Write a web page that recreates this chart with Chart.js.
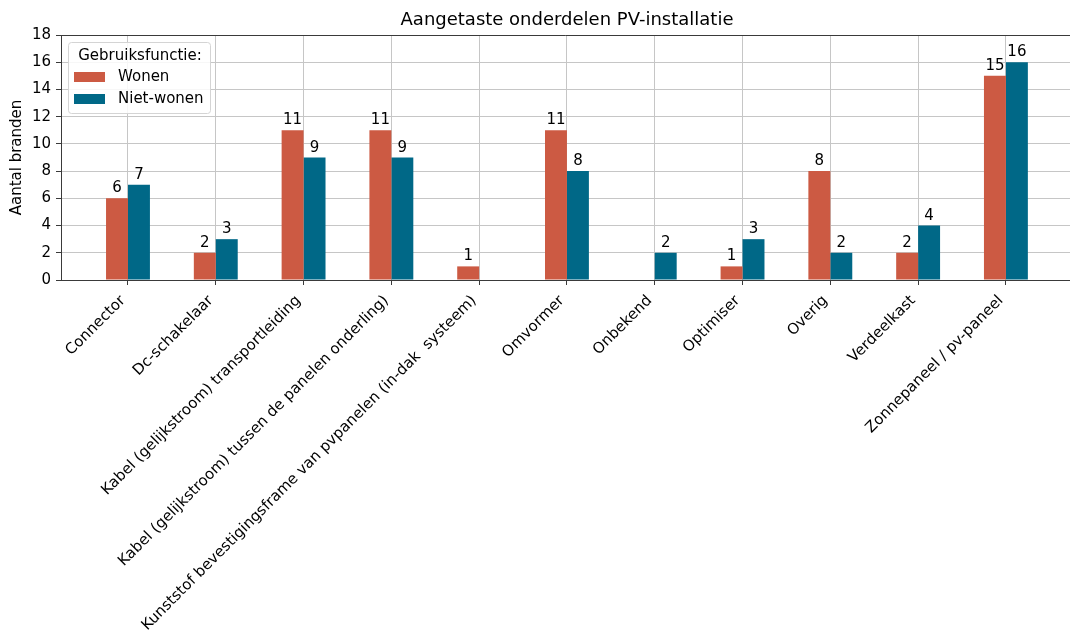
<!DOCTYPE html>
<html>
<head>
<meta charset="utf-8">
<script src="https://cdn.jsdelivr.net/npm/chart.js@4/dist/chart.umd.min.js"></script>
<style>
  html, body { margin: 0; padding: 0; background: #ffffff; }
  #wrap { width: 1070px; height: 632px; position: relative; }
</style>
</head>
<body>
<div id="wrap"><canvas id="c" width="1070" height="632"></canvas></div>
<script>
const chartTitle = "Aangetaste onderdelen PV-installatie";
const yAxisTitle = "Aantal branden";
const legendTitle = "Gebruiksfunctie:";
const categories = [
  "Connector",
  "Dc-schakelaar",
  "Kabel (gelijkstroom) transportleiding",
  "Kabel (gelijkstroom) tussen de panelen onderling)",
  "Kunststof bevestigingsframe van pvpanelen (in-dak  systeem)",
  "Omvormer",
  "Onbekend",
  "Optimiser",
  "Overig",
  "Verdeelkast",
  "Zonnepaneel / pv-paneel"
];
const seriesNames = ["Wonen", "Niet-wonen"];
const wonen =    [6, 2, 11, 11, 1, 11, 0, 1, 8, 2, 15];
const nietWonen = [7, 3, 9, 9, 0, 8, 2, 3, 2, 4, 16];
const yTicks = [0, 2, 4, 6, 8, 10, 12, 14, 16, 18];

const colors = ["#CC5A43", "#006887"];
const FONT = "'DejaVu Sans', 'Liberation Sans', sans-serif";

const toPoints = arr => arr.map((v, i) => ({ x: i, y: v }));

const valueLabels = {
  id: 'valueLabels',
  afterDatasetsDraw(chart) {
    const ctx = chart.ctx;
    ctx.save();
    ctx.font = "15px " + FONT;
    ctx.fillStyle = "#000";
    ctx.textAlign = "center";
    ctx.textBaseline = "alphabetic";
    chart.data.datasets.forEach((ds, di) => {
      const meta = chart.getDatasetMeta(di);
      meta.data.forEach((el, i) => {
        const v = ds.data[i].y;
        if (v > 0) ctx.fillText(String(v), el.x, el.y - 6);
      });
    });
    ctx.restore();
  }
};

const frame = {
  id: 'frame',
  afterDraw(chart) {
    const ctx = chart.ctx, a = chart.chartArea;
    ctx.save();
    // top spine
    ctx.strokeStyle = "#3a3a3a";
    ctx.lineWidth = 1;
    ctx.beginPath();
    ctx.moveTo(a.left, a.top + 0.5);
    ctx.lineTo(a.right, a.top + 0.5);
    ctx.stroke();
    // title
    ctx.font = "18px " + FONT;
    ctx.fillStyle = "#000";
    ctx.textAlign = "center";
    ctx.textBaseline = "alphabetic";
    ctx.fillText(chartTitle, 567, 25);
    // legend
    const lx = 68, ly = 42, lw = 142, lh = 71;
    ctx.fillStyle = "rgba(255,255,255,0.85)";
    ctx.strokeStyle = "#d4d4d4";
    ctx.lineWidth = 1;
    ctx.beginPath();
    ctx.roundRect(lx + 0.5, ly + 0.5, lw, lh, 3);
    ctx.fill();
    ctx.stroke();
    ctx.font = "15px " + FONT;
    ctx.fillStyle = "#000";
    ctx.textAlign = "center";
    ctx.textBaseline = "middle";
    ctx.fillText(legendTitle, lx + lw / 2 + 1, 56);
    const rows = [77, 99];
    chart.data.datasets.forEach((ds, di) => {
      ctx.fillStyle = ds.backgroundColor;
      ctx.fillRect(74, rows[di] - 5, 31, 10);
      ctx.fillStyle = "#000";
      ctx.textAlign = "left";
      ctx.fillText(ds.label, 118, rows[di]);
    });
    ctx.restore();
  }
};

new Chart(document.getElementById('c'), {
  type: 'bar',
  data: {
    datasets: [
      { label: seriesNames[0], data: toPoints(wonen), backgroundColor: colors[0] },
      { label: seriesNames[1], data: toPoints(nietWonen), backgroundColor: colors[1] }
    ]
  },
  options: {
    responsive: false,
    animation: false,
    devicePixelRatio: 1,
    layout: { padding: { top: 35, right: 0, bottom: 0, left: 0 } },
    datasets: { bar: { categoryPercentage: 0.5, barPercentage: 1.0, borderWidth: 0 } },
    plugins: {
      legend: { display: false },
      title: { display: false },
      tooltip: { enabled: false }
    },
    scales: {
      x: {
        type: 'linear',
        offset: false,
        min: -0.763,
        max: 10.73,
        afterBuildTicks(scale) {
          scale.ticks = categories.map((_, i) => ({ value: i }));
        },
        afterFit(scale) { scale.height = 352; },
        ticks: {
          autoSkip: false,
          minRotation: 45,
          maxRotation: 45,
          padding: 7,
          labelOffset: -5,
          color: "#000",
          font: { family: FONT, size: 15 },
          callback: (v) => categories[v]
        },
        grid: { offset: false, color: "#c6c6c6", lineWidth: 1, tickColor: "#3a3a3a", tickLength: 5, drawTicks: true },
        border: { display: true, color: "#3a3a3a", width: 1 }
      },
      y: {
        min: 0,
        max: 18,
        afterBuildTicks(scale) {
          scale.ticks = yTicks.map(v => ({ value: v }));
        },
        afterFit(scale) { scale.width = 61; },
        ticks: {
          color: "#000",
          padding: 5,
          font: { family: FONT, size: 15 }
        },
        grid: { color: "#c6c6c6", lineWidth: 1, tickColor: "#3a3a3a", tickLength: 5 },
        border: { display: true, color: "#3a3a3a", width: 1 },
        title: {
          display: true,
          text: yAxisTitle,
          color: "#000",
          font: { family: FONT, size: 15 },
          padding: { top: 8, bottom: 0 }
        }
      }
    }
  },
  plugins: [valueLabels, frame]
});
</script>
</body>
</html>
